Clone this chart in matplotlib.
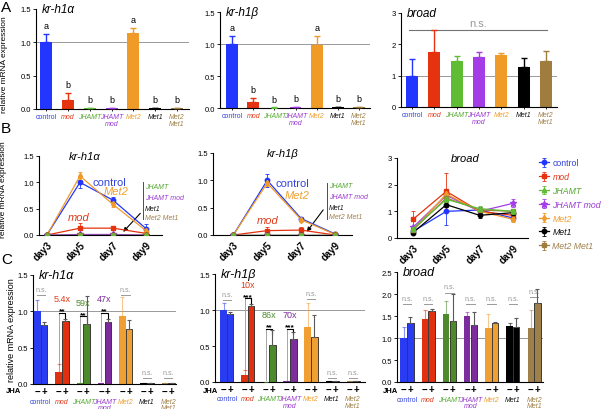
import numpy as np
import matplotlib.pyplot as plt
from matplotlib.transforms import blended_transform_factory

plt.rcParams['font.family'] = ['Liberation Sans', 'DejaVu Sans']

W, H = 601, 410

# --- dados ---
linhagens = ["control", "mod", "JHAMT", "JHAMT\nmod", "Met2", "Met1", "Met2\nMet1"]
linhagens_leg = ["control", "mod", "JHAMT", "JHAMT mod", "Met2", "Met1", "Met2 Met1"]
cores_a = ["#2236ff", "#e5330f", "#5fbd34", "#a43de6", "#f09a28", "#000000", "#a07c3e"]
cores_c = ["#2a3cf2", "#e0300f", "#4d8a2c", "#7c2c9c", "#f0a033", "#000000", "#a0804a"]
cores_txt = ["#3344dd", "#e03a1a", "#55a830", "#9a3cd0", "#f0a030", "#111111", "#a08048"]
marcadores = ["o", "s", "^", "*", "d", "o", "s"]

# painel A
a_krh1a = [1.0, 0.14, 0.01, 0.015, 1.14, 0.01, 0.01]
a_krh1a_err = [0.13, 0.10, 0.004, 0.006, 0.07, 0.003, 0.003]
a_krh1a_letras = ["a", "b", "b", "b", "a", "b", "b"]
a_krh1b = [1.0, 0.09, 0.005, 0.01, 0.98, 0.01, 0.01]
a_krh1b_err = [0.13, 0.07, 0.003, 0.004, 0.14, 0.003, 0.003]
a_krh1b_letras = ["a", "b", "b", "b", "a", "b", "b"]
a_broad = [1.0, 1.76, 1.47, 1.60, 1.66, 1.27, 1.48]
a_broad_err = [0.52, 0.70, 0.15, 0.14, 0.07, 0.30, 0.32]

# painel B (day3, day5, day7, day9)
dias = ["day3", "day5", "day7", "day9"]
b_krh1a = [[0.0, 1.0, 0.66, 0.12], [0.0, 0.13, 0.13, 0.03], [0.0, 0.0, 0.0, 0.0],
           [0.0, 0.01, 0.01, 0.0], [0.0, 1.12, 0.58, 0.08], [0.0, 0.0, 0.0, 0.0],
           [0.0, 0.0, 0.0, 0.0]]
b_krh1a_err = [[0.01, 0.1, 0.07, 0.08], [0.01, 0.1, 0.04, 0.02], [0, 0, 0, 0],
               [0, 0, 0, 0], [0.01, 0.08, 0.04, 0.03], [0, 0, 0, 0], [0, 0, 0, 0]]
b_krh1b = [[0.0, 1.0, 0.3, 0.02], [0.0, 0.08, 0.09, 0.0], [0.0, 0.0, 0.0, 0.0],
           [0.0, 0.0, 0.0, 0.0], [0.0, 0.95, 0.28, 0.01], [0.0, 0.0, 0.0, 0.0],
           [0.0, 0.0, 0.0, 0.0]]
b_krh1b_err = [[0.01, 0.12, 0.03, 0.01], [0.01, 0.06, 0.05, 0.01], [0, 0, 0, 0],
               [0, 0, 0, 0], [0.01, 0.05, 0.04, 0.01], [0, 0, 0, 0], [0, 0, 0, 0]]
b_broad = [[0.25, 1.0, 1.05, 0.75], [0.7, 1.75, 1.0, 0.85], [0.35, 1.45, 1.1, 1.0],
           [0.4, 1.6, 1.0, 1.3], [0.3, 1.65, 1.0, 0.7], [0.2, 1.25, 0.85, 0.95],
           [0.3, 1.5, 1.05, 1.0]]
b_broad_err = [[0.08, 0.5, 0.1, 0.1], [0.3, 0.7, 0.1, 0.1], [0.05, 0.1, 0.1, 0.1],
               [0.05, 0.1, 0.05, 0.15], [0.05, 0.1, 0.1, 0.1], [0.05, 0.1, 0.1, 0.1],
               [0.05, 0.1, 0.1, 0.1]]

# painel C (-JHA, +JHA)
c_krh1a_menos = [1.0, 0.16, 0.01, 0.02, 0.94, 0.01, 0.01]
c_krh1a_menos_err = [0.15, 0.11, 0.0, 0.0, 0.26, 0.0, 0.0]
c_krh1a_mais = [0.81, 0.87, 0.83, 0.85, 0.76, 0.01, 0.01]
c_krh1a_mais_err = [0.04, 0.02, 0.38, 0.05, 0.12, 0.0, 0.0]
c_krh1b_menos = [1.0, 0.10, 0.005, 0.01, 0.76, 0.01, 0.01]
c_krh1b_menos_err = [0.10, 0.07, 0.0, 0.0, 0.34, 0.0, 0.0]
c_krh1b_mais = [0.95, 1.05, 0.52, 0.60, 0.62, 0.01, 0.01]
c_krh1b_mais_err = [0.02, 0.03, 0.20, 0.10, 0.31, 0.0, 0.0]
c_broad_menos = [1.0, 1.44, 1.54, 1.50, 1.23, 1.27, 1.22]
c_broad_menos_err = [0.26, 0.20, 0.30, 0.10, 0.32, 0.06, 0.42]
c_broad_mais = [1.34, 1.62, 1.39, 1.30, 1.33, 1.26, 1.80]
c_broad_mais_err = [0.13, 0.05, 0.60, 0.28, 0.03, 0.20, 0.32]

fig = plt.figure(figsize=(W / 100, H / 100), dpi=100)


def eixo(x0, y0, x1, y1):
    ax = fig.add_axes([x0 / W, 1 - y1 / H, (x1 - x0) / W, (y1 - y0) / H])
    ax.spines[['top', 'right']].set_visible(False)
    ax.spines[['left', 'bottom']].set_linewidth(0.8)
    ax.tick_params(length=2, width=0.6, labelsize=5.5, pad=1.5)
    return ax


def estilo_rotulos(textos):
    for t, c, nome in zip(textos, cores_txt, linhagens):
        t.set_color(c)
        if nome != "control":
            t.set_fontstyle('italic')


def painel_a(ax, vals, errs, ymax, titulo, xlim, letras=None):
    x = np.arange(len(vals))
    ax.axhline(1.0, color='0.6', lw=0.7, zorder=1)
    ax.bar(x, vals, width=0.55, color=cores_a, zorder=2)
    for xi, v, e, c in zip(x, vals, errs, cores_a):
        ax.errorbar(xi, v, yerr=[[0], [e]], fmt='none', ecolor=c, elinewidth=1,
                    capsize=2.5, capthick=1, zorder=3)
        if letras is not None:
            ax.text(xi, v + e + 0.04 * ymax, letras[xi], ha='center', va='bottom', fontsize=6.5)
    ax.set_xlim(*xlim)
    ax.set_ylim(0, ymax)
    ax.set_xticks(x)
    ax.set_xticklabels(linhagens, fontsize=5, linespacing=0.9)
    estilo_rotulos(ax.get_xticklabels())
    ax.tick_params(axis='x', length=1.5)
    ax.text(0.04, 1.06, titulo, transform=ax.transAxes, fontsize=8.5, fontstyle='italic',
            va='top', ha='left')


# ---------------- A ----------------
axA1 = eixo(36, 10, 189, 110)
painel_a(axA1, a_krh1a, a_krh1a_err, 1.5, "kr-h1α", (-0.46, 6.55), a_krh1a_letras)
axA1.set_yticks([0, 0.5, 1.0, 1.5])
axA1.set_yticklabels(["0.0", "0.5", "1.0", "1.5"])

axA2 = eixo(220, 13, 370, 109)
painel_a(axA2, a_krh1b, a_krh1b_err, 1.5, "kr-h1β", (-0.57, 6.52), a_krh1b_letras)
axA2.set_yticks([0, 0.5, 1.0, 1.5])
axA2.set_yticklabels(["0.0", "0.5", "1.0", "1.5"])

axA3 = eixo(401, 14, 557, 108)
painel_a(axA3, a_broad, a_broad_err, 3.0, "broad", (-0.49, 6.49))
axA3.set_yticks([0, 1, 2, 3])
axA3.plot([-0.15, 6.05], [2.45, 2.45], color='0.45', lw=0.8)
axA3.text(2.95, 2.52, "n.s.", color='0.6', ha='center', va='bottom', fontsize=8)


# ---------------- B ----------------
def painel_b(ax, series, errs, ymax, titulo, xlim, xtit):
    x = np.arange(len(dias))
    for i in range(len(series)):
        ax.errorbar(x, series[i], yerr=errs[i], color=cores_a[i], marker=marcadores[i],
                    ms=3.2 if marcadores[i] != "*" else 4.5, lw=0.9, elinewidth=0.6,
                    capsize=1.5, capthick=0.6, label=linhagens_leg[i], zorder=3 + (i == 2))
    ax.set_xlim(*xlim)
    ax.set_ylim(0, ymax)
    ax.set_xticks(x)
    ax.set_xticklabels(dias, rotation=45, ha='right', rotation_mode='anchor',
                       fontsize=7, fontweight='bold')
    ax.tick_params(axis='x', length=0, pad=3)
    ax.text(xtit, 1.0, titulo, transform=ax.transAxes, fontsize=8, fontstyle='italic',
            ha='center', va='center')


def anotacao_b(ax, xc, yc, xm, ym, xmod, ymod, xb, yb0, yb1, ylabs, seta_de, seta_para):
    ax.text(xc, yc, "control", color=cores_txt[0], fontsize=8, ha='center', va='center')
    ax.text(xm, ym, "Met2", color=cores_txt[4], fontsize=8, ha='center', va='center',
            fontstyle='italic')
    ax.text(xmod, ymod, "mod", color=cores_txt[1], fontsize=8, ha='center', va='center',
            fontstyle='italic')
    ax.plot([xb, xb], [yb0, yb1], color='0.3', lw=0.7)
    for nome, yl, c in zip(["JHAMT", "JHAMT mod", "Met1", "Met2 Met1"], ylabs,
                           [cores_txt[2], cores_txt[3], cores_txt[5], cores_txt[6]]):
        ax.text(xb + 0.06, yl, nome, color=c, fontsize=5, fontstyle='italic', va='center',
                ha='left')
    ax.annotate("", xy=seta_para, xytext=seta_de,
                arrowprops=dict(arrowstyle='-|>', color='black', lw=0.8, mutation_scale=6))


axB1 = eixo(39, 157, 162, 236)
painel_b(axB1, b_krh1a, b_krh1a_err, 1.5, "kr-h1α", (-0.24, 3.48), 0.37)
axB1.set_yticks([0, 0.5, 1.0, 1.5])
axB1.set_yticklabels(["0.0", "0.5", "1.0", "1.5"])
anotacao_b(axB1, 1.88, 1.0, 2.09, 0.84, 0.97, 0.34, 2.9, 0.3, 1.0,
           [0.93, 0.72, 0.51, 0.33], (2.88, 0.45), (2.25, 0.02))

axB2 = eixo(213, 154, 352, 236)
painel_b(axB2, b_krh1b, b_krh1b_err, 1.5, "kr-h1β", (-0.6, 3.5), 0.5)
axB2.set_yticks([0, 0.5, 1.0, 1.5])
axB2.set_yticklabels(["0.0", "0.5", "1.0", "1.5"])
anotacao_b(axB2, 1.74, 0.95, 1.88, 0.73, 1.0, 0.27, 2.76, 0.29, 0.95,
           [0.9, 0.71, 0.51, 0.33], (2.7, 0.5), (2.12, 0.02))

axB3 = eixo(397, 159, 528, 239)
painel_b(axB3, b_broad, b_broad_err, 3.0, "broad", (-0.48, 3.45), 0.52)
axB3.set_yticks([0, 1, 2, 3])

leg = axB3.legend(loc='upper left', bbox_to_anchor=(535 / W, 1 - 155 / H),
                  bbox_transform=fig.transFigure, frameon=False, fontsize=6.3,
                  handlelength=1.1, handletextpad=0.4, labelspacing=0.55, borderpad=0)
for t, c, nome in zip(leg.get_texts(), cores_txt, linhagens_leg):
    t.set_color(c)
    if nome != "control":
        t.set_fontstyle('italic')


# ---------------- C ----------------
def painel_c(ax, menos, menos_e, mais, mais_e, ymax, titulo, xlim):
    g = np.arange(len(menos))
    d = 0.16
    ax.axhline(1.0, color='0.6', lw=0.7, zorder=1)
    ax.bar(g - d, menos, width=0.3, color=cores_c, zorder=2)
    ax.bar(g + d, mais, width=0.3, color=cores_c, edgecolor='0.15', linewidth=0.6, zorder=2)
    for i in g:
        ax.errorbar(i - d, menos[i], yerr=[[0], [menos_e[i]]], fmt='none', ecolor=cores_c[i],
                    alpha=0.55, elinewidth=0.8, capsize=1.5, capthick=0.8, zorder=3)
        ax.errorbar(i + d, mais[i], yerr=[[0], [mais_e[i]]], fmt='none', ecolor='0.35',
                    elinewidth=0.8, capsize=1.5, capthick=0.8, zorder=3)
    ax.set_xlim(*xlim)
    ax.set_ylim(0, ymax)
    ax.set_xticks([])
    tr = blended_transform_factory(ax.transData, ax.transAxes)
    for i in g:
        ax.text(i - d, -0.065, "−", transform=tr, ha='center', va='center', fontsize=7,
                fontweight='bold')
        ax.text(i + d, -0.065, "+", transform=tr, ha='center', va='center', fontsize=7,
                fontweight='bold')
        t = ax.text(i, -0.125, linhagens[i], transform=tr, ha='center', va='top',
                    fontsize=5, color=cores_txt[i], linespacing=0.85)
        if linhagens[i] != "control":
            t.set_fontstyle('italic')
    ax.text(0.04, 1.0, titulo, transform=ax.transAxes, fontsize=9, fontstyle='italic',
            va='center', ha='left')


def ns(ax, g, y, passo):
    ax.plot([g - 0.2, g + 0.2], [y, y], color='0.6', lw=0.7)
    ax.text(g, y + passo * 0.2, "n.s.", color='0.6', ha='center', va='bottom', fontsize=5)


def colchete(ax, g, yb, ybase, estrela, rotulo, cor, passo):
    d = 0.16
    ax.plot([g - d, g - d], [ybase, yb], color='0.65', lw=0.7)
    ax.plot([g - d, g - d, g + d, g + d], [yb, yb, yb, yb - 0.05 * passo * 10],
            color='black', lw=0.8)
    ax.text(g, yb - 0.02, estrela, ha='center', va='bottom', fontsize=6, fontweight='bold')
    ax.text(g, yb + 0.1 * passo * 10 * 0.9, rotulo, color=cor, ha='center', va='bottom',
            fontsize=6.5)


axC1 = eixo(33, 276, 176, 385)
painel_c(axC1, c_krh1a_menos, c_krh1a_menos_err, c_krh1a_mais, c_krh1a_mais_err,
         1.5, "kr-h1α", (-0.37, 6.37))
axC1.set_yticks([0, 0.5, 1.0, 1.5])
axC1.set_yticklabels(["0.0", "0.5", "1.0", "1.5"])
for gi, yv in [(0, 1.22), (4, 1.22), (5, 0.08), (6, 0.08)]:
    ns(axC1, gi, yv, 0.15)
colchete(axC1, 1, 0.98, c_krh1a_menos[1] + c_krh1a_menos_err[1], "**", "5.4x", cores_txt[1], 0.15)
colchete(axC1, 2, 0.93, 0.03, "**", "59x", cores_c[2], 0.15)
colchete(axC1, 3, 0.98, 0.04, "**", "47x", cores_c[3], 0.15)

axC2 = eixo(215, 275, 365, 383)
painel_c(axC2, c_krh1b_menos, c_krh1b_menos_err, c_krh1b_mais, c_krh1b_mais_err,
         1.5, "kr-h1β", (-0.57, 6.57))
axC2.set_yticks([0, 0.5, 1.0, 1.5])
axC2.set_yticklabels(["0.0", "0.5", "1.0", "1.5"])
for gi, yv in [(0, 1.14), (4, 1.15), (5, 0.06), (6, 0.06)]:
    ns(axC2, gi, yv, 0.15)
colchete(axC2, 1, 1.16, c_krh1b_menos[1] + c_krh1b_menos_err[1], "***", "10x", cores_txt[1], 0.15)
colchete(axC2, 2, 0.74, 0.03, "**", "86x", cores_c[2], 0.15)
colchete(axC2, 3, 0.74, 0.03, "***", "70x", cores_c[3], 0.15)

axC3 = eixo(397, 273, 543, 383)
painel_c(axC3, c_broad_menos, c_broad_menos_err, c_broad_mais, c_broad_mais_err,
         2.5, "broad", (-0.47, 6.42))
axC3.set_yticks([0, 0.5, 1.0, 1.5, 2.0, 2.5])
axC3.set_yticklabels(["0.0", "0.5", "1.0", "1.5", "2.0", "2.5"])
for gi, yv in [(0, 1.77), (1, 1.77), (2, 2.03), (3, 1.77), (4, 1.77), (5, 1.77), (6, 1.93)]:
    ns(axC3, gi, yv, 0.25)

# rótulos JHA
for xp in [6, 203, 383]:
    fig.text(xp / W, 1 - 392 / H, "JHA", fontsize=5.5, fontweight='bold', va='center')

# rótulos do eixo y
for xp, yp, fs in [(5, 65, 6), (4, 190, 6), (12, 330, 6.5)]:
    fig.text(xp / W, 1 - yp / H, "relative mRNA expression", rotation=90, fontsize=fs,
             ha='center', va='center')

# letras dos painéis
for letra, yp in [("A", 1), ("B", 122), ("C", 253)]:
    fig.text(1 / W, 1 - yp / H, letra, fontsize=11, va='top', ha='left')

fig.savefig("out.png", dpi=100)
